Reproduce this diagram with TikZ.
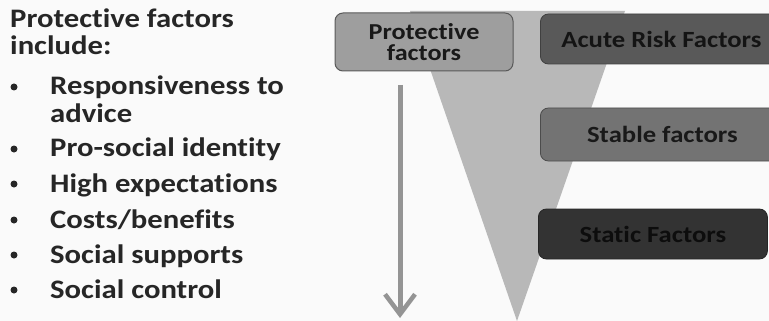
\documentclass[tikz,border=0pt]{standalone}
\usepackage{fontspec}
\setmainfont{Carlito}[Ligatures=NoCommon]
\usetikzlibrary{arrows.meta}
\newcommand{\wide}[1]{\scalebox{1.15}[1]{#1}}
\tikzset{
  lefttext/.style={anchor=base west, inner sep=0pt, text=black!85, font=\fontsize{26.7}{27}\selectfont\bfseries},
  bulletdot/.style={circle, fill=black!85, inner sep=0pt, minimum size=7pt},
  boxbase/.style={rounded corners=8pt, inner sep=0pt, font=\fontsize{23.2}{21}\selectfont\bfseries},
  protbox/.style={boxbase, fill=black!38, draw=black!65, line width=1pt, text=black!90, align=center, minimum width=178pt, minimum height=58pt, font=\fontsize{22.8}{21}\selectfont\bfseries},
  acutebox/.style={boxbase, fill=black!65, draw=black!75, line width=0.8pt, text=black!92, anchor=west, minimum width=242pt, minimum height=50pt},
  stablebox/.style={boxbase, fill=black!55, draw=black!70, line width=0.8pt, text=black!90, anchor=west, minimum width=244pt, minimum height=53pt},
  staticbox/.style={boxbase, fill=black!80, draw=black!85, line width=0.8pt, text=black!95, anchor=west, minimum width=229pt, minimum height=50pt},
  funnel/.style={fill=black!28},
  downarrow/.style={draw=black!42, line width=5pt, -{Straight Barb[length=20pt,width=30pt,line width=4.5pt]}}
}
\begin{document}
\begin{tikzpicture}[x=1pt,y=-1pt]
\useasboundingbox[fill=black!2] (0,0) rectangle (769,321);
% funnel
\coordinate (ftl) at (410,11);
\coordinate (ftr) at (625,11);
\coordinate (fap) at (517,321);
\fill[funnel] (ftl) -- (ftr) -- (fap) -- cycle;
% left text
\node[lefttext] (t1) at (10,28) {\wide{Protective factors}};
\node[lefttext] (t2) at (10,55) {\wide{include:}};
\node[lefttext] (i1) at (50,95) {\wide{Responsiveness to}};
\node[lefttext] (i1b) at (50,122) {\wide{advice}};
\node[lefttext] (i2) at (50,157) {\wide{Pro-social identity}};
\node[lefttext] (i3) at (50,192) {\wide{High expectations}};
\node[lefttext] (i4) at (50,228) {\wide{Costs/benefits}};
\node[lefttext] (i5) at (50,263) {\wide{Social supports}};
\node[lefttext] (i6) at (50,298) {\wide{Social control}};
\node[bulletdot] (b1) at (14,87) {};
\node[bulletdot] (b2) at (14,149) {};
\node[bulletdot] (b3) at (14,184) {};
\node[bulletdot] (b4) at (14,220) {};
\node[bulletdot] (b5) at (14,255) {};
\node[bulletdot] (b6) at (14,290) {};
% boxes
\node[protbox] (prot) at (424,42) {\wide{Protective}\\\wide{factors}};
\node[acutebox] (acute) at (540,39) {\wide{Acute Risk Factors}};
\node[stablebox] (stable) at (540,134.5) {\wide{Stable factors}};
\node[staticbox] (static) at (538,234) {\wide{Static Factors}};
% arrow
\coordinate (atop) at (400,85);
\coordinate (abot) at (400,318);
\draw[downarrow] (atop) -- (abot);
\end{tikzpicture}
\end{document}
